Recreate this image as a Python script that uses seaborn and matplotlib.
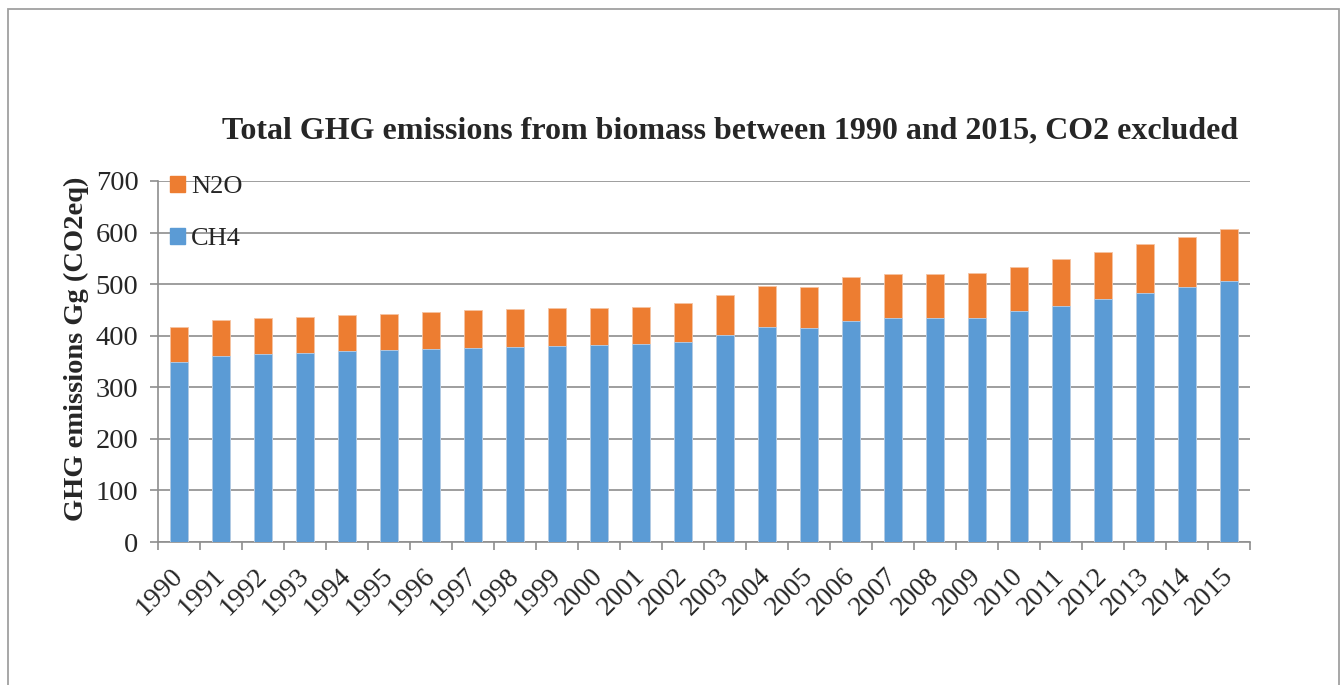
import matplotlib
matplotlib.use("Agg")
import matplotlib.pyplot as plt
import seaborn as sns
import pandas as pd
from matplotlib.patches import Patch, Rectangle
from matplotlib.ticker import FixedLocator, NullFormatter

# Emissions by year, Gg CO2-equivalent
years = ["1990", "1991", "1992", "1993", "1994", "1995", "1996", "1997", "1998",
         "1999", "2000", "2001", "2002", "2003", "2004", "2005", "2006", "2007",
         "2008", "2009", "2010", "2011", "2012", "2013", "2014", "2015"]
ch4 = [350, 361, 364, 366, 370, 372, 374, 377, 379, 381, 382, 383, 388,
       401, 416, 414, 428, 435, 435, 435, 447, 458, 471, 482, 494, 507]
n2o = [67, 70, 70, 71, 70, 71, 72, 72, 72, 72, 72, 73, 75,
       77, 80, 81, 85, 85, 85, 86, 87, 90, 91, 95, 97, 99]
y_ticks = [0, 100, 200, 300, 400, 500, 600, 700]

BLUE = "#5B9BD5"
ORANGE = "#ED7D31"
GRID = "#8E8E8E"

df = pd.DataFrame({"year": years, "CH4": ch4, "N2O": n2o})
df["total"] = df["CH4"] + df["N2O"]

sns.set_theme(style="white")
plt.rcParams["font.family"] = ["Liberation Serif", "DejaVu Serif"]

W, H = 1344, 685
fig = plt.figure(figsize=(W / 100, H / 100), dpi=100)
ax = fig.add_axes([158 / W, 1 - 542 / H, (1250 - 158) / W, (542 - 181) / H])

# Stacked bars: full height in orange, CH4 portion drawn over it in blue
sns.barplot(data=df, x="year", y="total", color=ORANGE, saturation=1,
            width=0.405, ax=ax, edgecolor="#F6C3A2", linewidth=0.6, zorder=3)
sns.barplot(data=df, x="year", y="CH4", color=BLUE, saturation=1,
            width=0.405, ax=ax, edgecolor="#B4D0EC", linewidth=0.6, zorder=3)

ax.set_xlim(-0.5, len(years) - 0.5)
ax.set_ylim(0, 700)
ax.set_yticks(y_ticks)
ax.set_xlabel("")
ax.set_ylabel("")

# Ticks sit on category boundaries, labels at category centres
n = len(years)
ax.xaxis.set_major_locator(FixedLocator([i - 0.5 for i in range(n + 1)]))
ax.xaxis.set_major_formatter(NullFormatter())
ax.xaxis.set_minor_locator(FixedLocator(list(range(n))))
ax.set_xticklabels(years, minor=True)
ax.tick_params(axis="x", which="major", direction="out", length=6,
               width=1.2, color=GRID, bottom=True)
ax.tick_params(axis="x", which="minor", length=0, pad=22, labelsize=20)
for lbl in ax.get_xticklabels(minor=True):
    lbl.set_rotation(45)
    lbl.set_ha("right")
    lbl.set_va("center")
    lbl.set_rotation_mode("anchor")

ax.tick_params(axis="y", direction="out", length=6, width=1.2, color=GRID,
               left=True, pad=8, labelsize=20.5)

ax.yaxis.grid(True, color=GRID, linewidth=1.2, zorder=0)
ax.xaxis.grid(False)
ax.set_axisbelow(True)
for side in ["top", "right"]:
    ax.spines[side].set_visible(False)
for side in ["left", "bottom"]:
    ax.spines[side].set_color(GRID)
    ax.spines[side].set_linewidth(1.2)

ax.legend(handles=[Patch(color=ORANGE, label="N2O"), Patch(color=BLUE, label="CH4")],
          loc="upper left", bbox_to_anchor=(0.011, 1.014), frameon=False,
          fontsize=19, handlelength=0.55, handleheight=0.55,
          handletextpad=0.25, labelspacing=1.12, borderpad=0, borderaxespad=0)

fig.text(730 / W, 1 - 131 / H,
         "Total GHG emissions from biomass between 1990 and 2015, CO2 excluded",
         ha="center", va="center", fontsize=23, fontweight="bold")
fig.text(76 / W, 1 - 349 / H, "GHG emissions Gg (CO2eq)", rotation=90,
         ha="center", va="center", fontsize=20.5, fontweight="bold")

# Outer chart frame (open at the bottom edge)
fig.patches.append(Rectangle((8 / W, -0.05), (1339 - 8) / W, 1.05 - 9.5 / H,
                             transform=fig.transFigure, fill=False,
                             edgecolor="#A0A0A0", linewidth=1.3))

fig.savefig("out.png", dpi=100)
